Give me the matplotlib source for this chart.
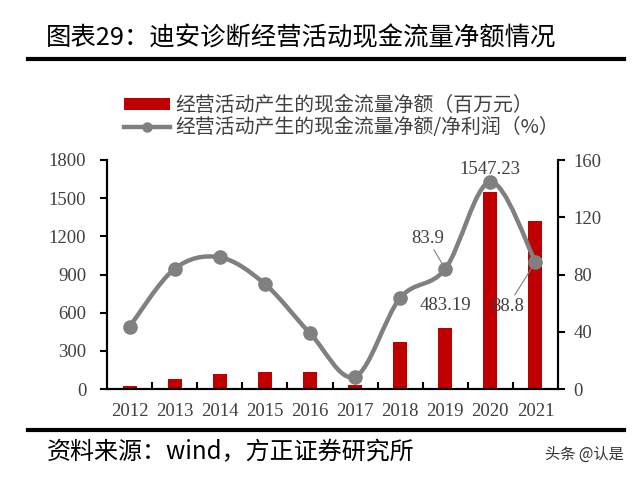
import matplotlib
matplotlib.use("Agg")
import matplotlib.pyplot as plt
import numpy as np
from matplotlib.path import Path
from matplotlib.patches import PathPatch, Patch
from matplotlib.lines import Line2D

plt.rcParams['font.family'] = ['Noto Sans CJK SC', 'DejaVu Sans']

years = ['2012', '2013', '2014', '2015', '2016', '2017', '2018', '2019', '2020', '2021']
cash_flow = [20, 75, 118, 134, 132, 35, 371, 483.19, 1547.23, 1320]
ratio = [43.5, 84, 92, 73.4, 39, 8.6, 63.6, 83.9, 144.7, 88.8]

bar_color = '#C00000'
line_color = '#808080'
txt_color = '#404040'
num_font = 'Liberation Serif'

fig = plt.figure(figsize=(6.4, 4.78), dpi=100)
ax = fig.add_axes([107/640, 1-389/478, 451/640, 229/478])
ax2 = ax.twinx()

x = np.arange(len(years))
ax.bar(x, cash_flow, width=0.31, color=bar_color, zorder=2)
ax.set_xlim(-0.5, 9.5)
ax.set_ylim(0, 1800)
ax.set_yticks(np.arange(0, 1801, 300))
ax2.set_ylim(0, 160)
ax2.set_yticks(np.arange(0, 161, 40))

# smooth line (Catmull-Rom style bezier through the data points)
pts = np.column_stack([x, ratio]).astype(float)
verts = [pts[0]]
codes = [Path.MOVETO]
for i in range(len(pts) - 1):
    p0 = pts[i - 1] if i > 0 else pts[i]
    p1 = pts[i]
    p2 = pts[i + 1]
    p3 = pts[i + 2] if i + 2 < len(pts) else pts[i + 1]
    c1 = p1 + (p2 - p0) / 6
    c2 = p2 - (p3 - p1) / 6
    verts += [c1, c2, p2]
    codes += [Path.CURVE4] * 3
ax2.add_patch(PathPatch(Path(verts, codes), facecolor='none', edgecolor=line_color,
                        lw=3.2, capstyle='round', zorder=3))
ax2.plot(x, ratio, 'o', color=line_color, ms=9.5, zorder=4)

# labels
for i in (7, 8):
    ax.annotate(f"{cash_flow[i]:.2f}", (x[i], cash_flow[i]), xytext=(0, 16),
                textcoords='offset points', ha='center', va='center',
                fontsize=13.5, family=num_font, color=txt_color)
ax2.annotate(f"{ratio[7]}", (x[7], ratio[7]), xytext=(-13, 22), textcoords='offset points',
             ha='center', va='center', fontsize=13.5, family=num_font, color=txt_color,
             arrowprops=dict(arrowstyle='-', color=line_color, lw=0.8, shrinkA=0, shrinkB=2))
ax2.annotate(f"{ratio[9]}", (x[9], ratio[9]), xytext=(-20, -32), textcoords='offset points',
             ha='center', va='center', fontsize=13.5, family=num_font, color=txt_color,
             arrowprops=dict(arrowstyle='-', color=line_color, lw=0.8, shrinkA=0, shrinkB=2))

# axes styling
for a in (ax, ax2):
    a.spines['top'].set_visible(False)
    for s in ('left', 'right', 'bottom'):
        a.spines[s].set_linewidth(1.5)
        a.spines[s].set_color('black')
ax.set_xticks(x)
ax.set_xticklabels(years)
ax.set_xticks(np.arange(0.5, 9, 1), minor=True)
ax.tick_params(axis='x', which='major', length=0, pad=10, labelsize=13.5, labelcolor=txt_color)
ax.tick_params(axis='x', which='minor', direction='in', length=5, width=1.5)
ax.tick_params(axis='y', direction='out', length=5, width=1.5, pad=10, labelsize=13.5, labelcolor=txt_color)
ax2.tick_params(axis='y', direction='out', length=5, width=1.5, pad=6, labelsize=13.5, labelcolor=txt_color)
for lab in ax.get_xticklabels() + ax.get_yticklabels() + ax2.get_yticklabels():
    lab.set_family(num_font)

# legend
handles = [Patch(facecolor=bar_color, edgecolor='none'),
           Line2D([0], [0], color=line_color, lw=3.2, marker='o', ms=6.5)]
labels = ['经营活动产生的现金流量净额（百万元）', '经营活动产生的现金流量净额/净利润（%）']
fig.legend(handles, labels, loc='upper left', bbox_to_anchor=(124/640, 1-95/478),
           frameon=False, fontsize=14.3, handlelength=2.3, handleheight=0.5,
           handletextpad=0.3, labelspacing=0.05, borderpad=0, borderaxespad=0,
           labelcolor=txt_color)

# title, rules, footer
fig.text(46/640, 1-38/478, '图表29：迪安诊断经营活动现金流量净额情况', fontsize=18.3,
         va='center', ha='left', color='black')
fig.add_artist(Line2D([28/640, 624/640], [1-59/478, 1-59/478], color='black', lw=3))
fig.add_artist(Line2D([28/640, 624/640], [1-430/478, 1-430/478], color='black', lw=3))
fig.text(47/640, 1-452/478, '资料来源：wind，方正证券研究所', fontsize=17.3, style='italic',
         va='center', ha='left', color='black')
fig.text(624/640, 1-454/478, '头条 @认是', fontsize=11, va='center', ha='right', color='#333333')

fig.savefig('out.png', dpi=100)
